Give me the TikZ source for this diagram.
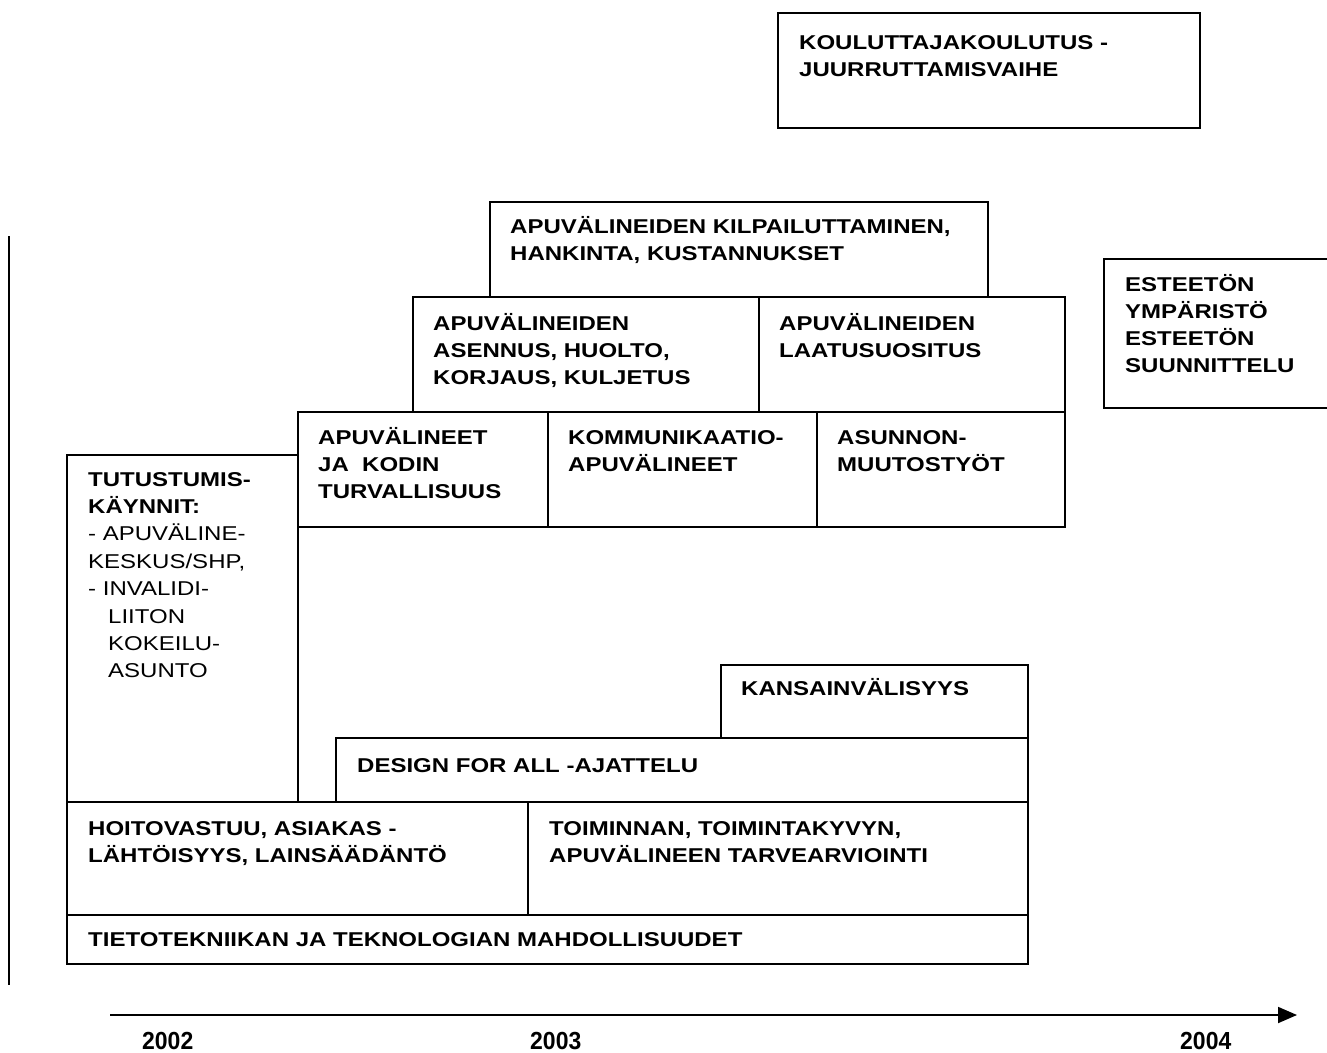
\documentclass[tikz,border=0pt]{standalone}
\usepackage{fontspec}
\setmainfont{Liberation Sans}[FakeStretch=1.2]
\newfontfamily\yearfont{Liberation Sans}[FakeStretch=0.93]
\usetikzlibrary{arrows.meta}

% a framed block: name, x1, y1, x2, y2 (top-left and bottom-right corners)
\newcommand\blok[5]{%
  \node[box, minimum width={#4pt-#2pt}, minimum height={#5pt-#3pt}] (#1) at (#2,#3) {};}

\begin{document}
\begin{tikzpicture}[x=1pt, y=-1pt,
  box/.style={draw, line width=1.6pt, anchor=north west, inner sep=0pt, outer sep=0pt},
  txt/.style={anchor=base west, inner sep=0pt, text width=1000pt, align=left,
              font=\bfseries\fontsize{20}{27}\selectfont},
  yr/.style={anchor=base west, inner sep=0pt, font=\yearfont\bfseries\fontsize{24.7}{28}\selectfont},
  axis/.style={line width=1.8pt},
]
\useasboundingbox (0,0) rectangle (1327,1052);

% phase blocks
\blok{koul}{778}{13}{1200}{128}
\blok{kilp}{490}{202}{988}{297}
\blok{asen}{413}{297}{759}{412}
\blok{laat}{759}{297}{1065}{412}
\blok{koti}{298}{412}{548}{527}
\blok{komm}{548}{412}{817}{527}
\blok{asun}{817}{412}{1065}{527}
\blok{este}{1104}{259}{1330}{408}
\blok{tutu}{67}{455}{298}{802}
\blok{kans}{721}{665}{1028}{738}
\blok{desi}{336}{738}{1028}{802}
\blok{hoit}{67}{802}{528}{915}
\blok{toim}{528}{802}{1028}{915}
\blok{tiet}{67}{915}{1028}{964}

% block texts
\node[txt] (koul-t) at (799,49) {KOULUTTAJAKOULUTUS -\\JUURRUTTAMISVAIHE};
\node[txt] (kilp-t) at (510,233) {APUVÄLINEIDEN KILPAILUTTAMINEN,\\HANKINTA, KUSTANNUKSET};
\node[txt] (asen-t) at (433,330) {APUVÄLINEIDEN\\ASENNUS, HUOLTO,\\KORJAUS, KULJETUS};
\node[txt] (laat-t) at (779,330) {APUVÄLINEIDEN\\LAATUSUOSITUS};
\node[txt] (koti-t) at (318,444) {APUVÄLINEET\\JA\ \ KODIN\\TURVALLISUUS};
\node[txt] (komm-t) at (568,444) {KOMMUNIKAATIO-\\APUVÄLINEET};
\node[txt] (asun-t) at (837,444) {ASUNNON-\\MUUTOSTYÖT};
\node[txt] (este-t) at (1125,291) {ESTEETÖN\\YMPÄRISTÖ\\ESTEETÖN\\SUUNNITTELU};
\node[txt, font=\fontsize{20}{27.4}\selectfont] (tutu-t) at (88,486)
  {\textbf{TUTUSTUMIS-}\\\textbf{KÄYNNIT:}\\- APUVÄLINE-\\KESKUS/SHP,\\- INVALIDI-\\
   \hspace*{20pt}LIITON\\\hspace*{20pt}KOKEILU-\\\hspace*{20pt}ASUNTO};
\node[txt] (kans-t) at (741,695) {KANSAINVÄLISYYS};
\node[txt] (desi-t) at (357,772) {DESIGN FOR ALL -AJATTELU};
\node[txt] (hoit-t) at (88,835) {HOITOVASTUU, ASIAKAS -\\LÄHTÖISYYS, LAINSÄÄDÄNTÖ};
\node[txt] (toim-t) at (549,835) {TOIMINNAN, TOIMINTAKYVYN,\\APUVÄLINEEN TARVEARVIOINTI};
\node[txt] (tiet-t) at (88,946) {TIETOTEKNIIKAN JA TEKNOLOGIAN MAHDOLLISUUDET};

% left margin rule
\coordinate (vtop) at (9,236);
\coordinate (vbot) at (9,985);
\draw[line width=1.5pt] (vtop) -- (vbot);

% time axis
\coordinate (tstart) at (110,1015);
\coordinate (tend) at (1297,1015);
\draw[axis, -{Triangle[length=19pt, width=16pt]}] (tstart) -- (tend);
\node[yr] (y2002) at (142,1049) {2002};
\node[yr] (y2003) at (530,1049) {2003};
\node[yr] (y2004) at (1180,1049) {2004};
\end{tikzpicture}
\end{document}
